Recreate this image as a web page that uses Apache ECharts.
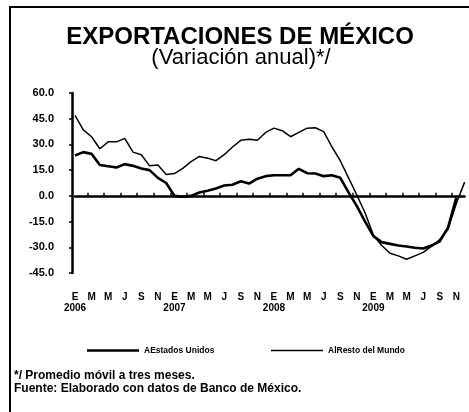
<!DOCTYPE html>
<html>
<head>
<meta charset="utf-8">
<title>Exportaciones de México</title>
<script src="https://cdn.jsdelivr.net/npm/echarts@6/dist/echarts.min.js"></script>
<style>
    html, body { margin: 0; padding: 0; background: #fff; }
    #chart { width: 469px; height: 412px; }
</style>
</head>
<body>
<div id="chart"></div>
<script>

// Data
// ------------------------------

var anios = ['2006', '2007', '2008', '2009'];
var letrasMes = ['E', 'F', 'M', 'A', 'M', 'J', 'J', 'A', 'S', 'O', 'N', 'D'];

// Variación anual (%), promedio móvil a tres meses, ene 2006 - dic 2009
var estadosUnidos = [
    23.5, 25.5, 24.5, 18, 17.3, 16.5, 18.5, 17.5, 16, 15, 10.5, 7.5,
    0, -0.5, 0, 2, 3, 4.3, 6, 6.5, 8.5, 7.2, 10, 11.5,
    12, 12, 12, 15.8, 13.2, 13, 11.5, 12, 10.5, 2, -6, -15,
    -23.5, -27, -28, -29, -29.5, -30.3, -30.7, -29, -26.5, -18.5, -1, null
];
var restoMundo = [
    47, 38.5, 34.5, 27.5, 31.5, 31.5, 33.5, 25.5, 24, 17.5, 18, 12.5,
    13, 16, 20, 23, 22, 20.5, 24, 28.5, 32.4, 33, 32.4, 37,
    39.5, 38, 34.5, 37, 39.5, 39.7, 37.5, 28.5, 20.5, 10.5, 0.5, -10,
    -23, -29, -33.5, -35, -37, -35, -33, -29.5, -25.5, -19.5, -4.5, 8
];

var seriesNombres = ['AEstados Unidos', 'AlResto del Mundo'];
var titulo = 'EXPORTACIONES DE MÉXICO';
var subtitulo = '(Variación anual)*/';
var notas = ['*/ Promedio móvil a tres meses.', 'Fuente: Elaborado con datos de Banco de México.'];

// categories: one per month
var meses = [];
anios.forEach(function(a) {
    letrasMes.forEach(function(l, m) {
        meses.push(a + '-' + (m + 1));
    });
});

// ticks on the zero line sit between months
var ticksCero = [];
for (var t = 1.5; t < meses.length; t += 2) {
    ticksCero.push(t);
}


// Chart
// ------------------------------

var FONT = '"Liberation Sans", Arial, sans-serif';

var chart = echarts.init(document.getElementById('chart'), null, { renderer: 'canvas' });

var legendText = { fontSize: 8.5, fontWeight: 'bold', color: '#000', fontFamily: FONT };

var option = {
    animation: false,
    backgroundColor: '#fff',
    textStyle: { fontFamily: FONT, color: '#000' },

    grid: {
        left: 75,
        right: 1.5,
        top: 93,
        bottom: 139,
        containLabel: false
    },

    // one legend per series so each can sit where the original has it
    legend: [{
        data: [seriesNombres[0]],
        left: 82,
        top: 341,
        icon: 'rect',
        itemWidth: 52,
        itemHeight: 2.5,
        itemGap: 4,
        textStyle: legendText
    }, {
        data: [seriesNombres[1]],
        left: 266,
        top: 341,
        icon: 'rect',
        itemWidth: 52,
        itemHeight: 1.3,
        itemGap: 4,
        textStyle: legendText
    }],

    xAxis: [{
        // month / year labels at the bottom
        type: 'category',
        data: meses,
        boundaryGap: false,
        axisLine: { show: false, onZero: false },
        axisTick: { show: false },
        splitLine: { show: false },
        axisLabel: {
            interval: 0,
            margin: 19,
            color: '#000',
            fontFamily: FONT,
            fontWeight: 'bold',
            fontSize: 10,
            lineHeight: 11,
            formatter: function(v, i) {
                var m = i % 12;
                var letra = (m % 2 === 0) ? letrasMes[m] : ' ';
                var anio = (m === 0) ? anios[Math.floor(i / 12)] : ' ';
                return letra + '\n' + anio;
            }
        }
    }, {
        // zero line with its ticks
        type: 'value',
        min: 0,
        max: meses.length - 1,
        axisLine: { show: true, onZero: true, lineStyle: { color: '#000', width: 2.5 } },
        axisTick: { show: true, length: 3, customValues: ticksCero, lineStyle: { color: '#000', width: 1.5 } },
        axisLabel: { show: false },
        splitLine: { show: false }
    }],

    yAxis: {
        type: 'value',
        min: -45,
        max: 60,
        interval: 15,
        offset: 3,
        axisLine: { show: true, onZero: false, lineStyle: { color: '#000', width: 2.5 } },
        axisTick: { show: true, length: 3, lineStyle: { color: '#000', width: 1.5 } },
        splitLine: { show: false },
        axisLabel: {
            margin: 18,
            color: '#000',
            fontFamily: FONT,
            fontWeight: 'bold',
            fontSize: 11,
            formatter: function(v) { return v.toFixed(1); }
        }
    },

    series: [{
        name: seriesNombres[0],
        type: 'line',
        data: estadosUnidos,
        xAxisIndex: 0,
        symbol: 'none',
        connectNulls: false,
        lineStyle: { color: '#000', width: 2.6 },
        itemStyle: { color: '#000' }
    }, {
        name: seriesNombres[1],
        type: 'line',
        data: restoMundo,
        xAxisIndex: 0,
        symbol: 'none',
        lineStyle: { color: '#000', width: 1.5 },
        itemStyle: { color: '#000' }
    }],

    graphic: [{
        // frame (left and top edges)
        type: 'polyline',
        shape: { points: [[10, 412], [10, 7], [469, 7]] },
        style: { stroke: '#000', lineWidth: 2, fill: null }
    }, {
        type: 'text',
        style: {
            text: titulo, x: 240, y: 37,
            textAlign: 'center', textVerticalAlign: 'middle',
            font: 'bold 24px ' + FONT, fill: '#000'
        }
    }, {
        type: 'text',
        style: {
            text: subtitulo, x: 241, y: 58,
            textAlign: 'center', textVerticalAlign: 'middle',
            font: '22px ' + FONT, fill: '#000'
        }
    }, {
        type: 'text',
        style: {
            text: notas[0], x: 14, y: 376,
            textAlign: 'left', textVerticalAlign: 'middle',
            font: 'bold 12px ' + FONT, fill: '#000'
        }
    }, {
        type: 'text',
        style: {
            text: notas[1], x: 14, y: 389,
            textAlign: 'left', textVerticalAlign: 'middle',
            font: 'bold 12px ' + FONT, fill: '#000'
        }
    }]
};

chart.setOption(option);

</script>
</body>
</html>
